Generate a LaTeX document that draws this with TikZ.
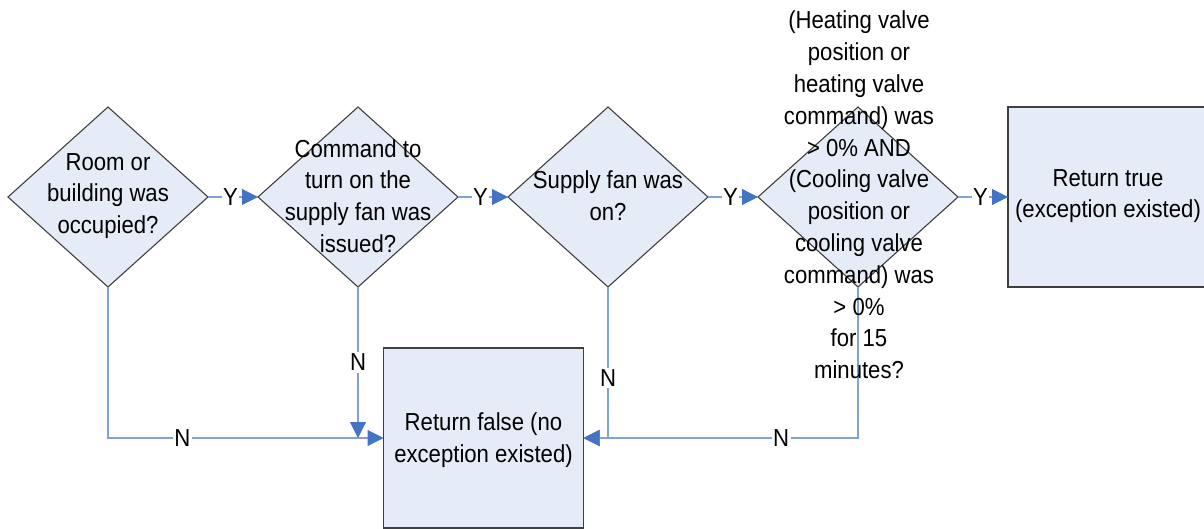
\documentclass[tikz,border=0pt]{standalone}
\usepackage{fontspec}
\setmainfont{Liberation Sans}[FakeStretch=0.9]
\usetikzlibrary{arrows.meta,shapes.geometric}
\definecolor{boxfill}{HTML}{E6ECF7}
\definecolor{boxline}{HTML}{404040}
\definecolor{linkline}{HTML}{7FA3D8}
\definecolor{tipblue}{HTML}{4472C4}
\tikzset{
  decision/.style={diamond, draw=boxline, fill=boxfill, line width=0.55pt,
    minimum width=100pt, minimum height=90pt, inner sep=0pt, outer sep=0pt},
  result/.style={rectangle, draw=boxline, fill=boxfill, line width=0.55pt,
    minimum width=100pt, minimum height=90pt, inner sep=0pt, outer sep=0pt},
  txt/.style={align=center, inner sep=0pt,
    font=\fontsize{12.3pt}{15.9pt}\selectfont},
  link/.style={draw=linkline, line width=0.55pt,
    -{Triangle[length=8pt,width=8pt,fill=tipblue,color=tipblue]}},
  flag/.style={fill=white, inner sep=0.8pt, text=black,
    font=\fontsize{12.3pt}{14pt}\selectfont}
}
\begin{document}
\begin{tikzpicture}[x=0.5pt,y=-0.5pt]
\clip (0,0) rectangle (1204,529);

% decision diamonds
\node[decision] (d1) at (108,197) {};
\node[decision] (d2) at (358,197) {};
\node[decision] (d3) at (608,197) {};
\node[decision] (d4) at (858,197) {};

% outcome boxes
\node[result] (rt) at (1108,197) {};
\node[result] (rf) at (483.5,438) {};

% yes branches
\draw[link] (d1.east) -- node[flag,pos=0.45]{Y} (d2.west);
\draw[link] (d2.east) -- node[flag,pos=0.45]{Y} (d3.west);
\draw[link] (d3.east) -- node[flag,pos=0.45]{Y} (d4.west);
\draw[link] (d4.east) -- node[flag,pos=0.45]{Y} (rt.west);

% no branches
\draw[link] (d1.south) |- node[flag,pos=0.635]{N} (rf.west);
\draw[link] (d2.south) -- node[flag]{N} (d2.south |- rf.west);
\draw[link] (d4.south) |- node[flag,pos=0.64]{N} (rf.east);
\draw[link] (d3.south) |- node[flag,pos=0.3]{N} (rf.east);

% texts
\node[txt] (t1) at (108,196) {Room or\\building was\\occupied?};
\node[txt] (t2) at (358,196) {Command to\\turn on the\\supply fan was\\issued?};
\node[txt] (t3) at (608,196) {Supply fan was\\on?};
\node[txt] (t4) at (859,195) {(Heating valve\\position or\\heating valve\\command) was\\> 0\% AND\\(Cooling valve\\position or\\cooling valve\\command) was\\> 0\%\\for 15\\minutes?};
\node[txt] (t5) at (1108,196) {Return true\\(exception existed)};
\node[txt] (t6) at (483.5,440) {Return false (no\\exception existed)};
\end{tikzpicture}
\end{document}
